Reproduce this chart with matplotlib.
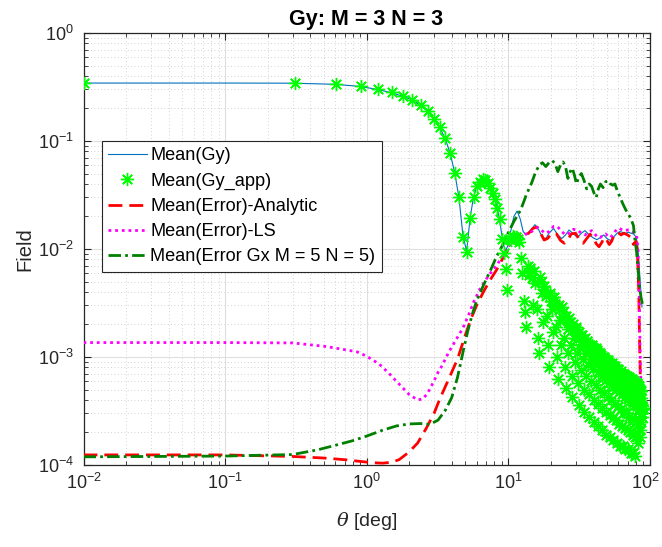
import numpy as np
import matplotlib
matplotlib.use("Agg")
import matplotlib.pyplot as plt
import matplotlib.transforms as mtransforms

plt.rcParams['font.family'] = ['Liberation Sans', 'DejaVu Sans']
plt.rcParams['mathtext.fontset'] = 'custom'
plt.rcParams['mathtext.rm'] = 'Liberation Sans'
plt.rcParams['mathtext.it'] = 'DejaVu Serif:italic'
plt.rcParams['mathtext.default'] = 'regular'

# ---------------- data ----------------
title = "Gy: M = 3 N = 3"
xlabel = r"$\mathit{\theta}$ [deg]"
ylabel = "Field"
labels = ["Mean(Gy)", "Mean(Gy_app)", "Mean(Error)-Analytic", "Mean(Error)-LS",
          "Mean(Error Gx M = 5 N = 5)"]

# Mean(Gy)
theta_gy = [0.01, 0.1, 0.3, 0.6, 0.9, 1.2, 1.5, 1.8, 2.1, 2.4, 2.7, 3.0, 3.3, 3.6, 3.9,
            4.2, 4.5, 4.8, 5.1, 5.4, 5.7, 6.0, 6.3, 6.6, 6.9, 7.2, 7.5, 7.8, 8.1, 8.4,
            8.7, 9.0, 9.3, 9.6, 9.9, 10.5, 11.0, 11.6, 12.2, 12.8, 13.5, 14.5, 15.5,
            16.5, 17.5, 18.5, 19.5, 21, 22.5, 24, 25.5, 27, 29, 31, 33, 35, 37.5, 40,
            42.5, 45, 47.5, 50, 53, 56, 59, 62, 65, 68, 71, 74, 77, 80, 82, 84, 85.5,
            87, 88.5]
gy = [0.344, 0.344, 0.343, 0.335, 0.32, 0.30, 0.28, 0.26, 0.24, 0.215, 0.19, 0.16, 0.133,
      0.105, 0.077, 0.051, 0.030, 0.0135, 0.0095, 0.0195, 0.030, 0.038, 0.042, 0.0445,
      0.044, 0.041, 0.037, 0.033, 0.029, 0.024, 0.019, 0.014, 0.011, 0.0096, 0.0105,
      0.015, 0.020, 0.0225, 0.019, 0.0145, 0.0135, 0.015, 0.0168, 0.0150, 0.0128,
      0.0125, 0.014, 0.0155, 0.0135, 0.0125, 0.0135, 0.0150, 0.0138, 0.0128, 0.0140,
      0.0148, 0.0135, 0.0127, 0.0122, 0.0128, 0.0135, 0.0125, 0.0120, 0.0130, 0.0140,
      0.0145, 0.0142, 0.0140, 0.0143, 0.0140, 0.0138, 0.0130, 0.0115, 0.0080, 0.0055,
      0.0040, 0.0029]

# Mean(Gy_app) sampled every 0.3 deg
theta_app = np.arange(0.01, 90.0, 0.3)
gy_app = [
    0.344, 0.344, 0.336, 0.322, 0.302, 0.282, 0.262, 0.240, 0.215, 0.188,
    0.160, 0.135, 0.106, 0.077, 0.051, 0.030, 0.0130, 0.0093, 0.0195, 0.030,
    0.038, 0.042, 0.0445, 0.044, 0.041, 0.037, 0.033, 0.029, 0.024, 0.019,
    0.0125,
    0.0092, 0.0065, 0.0042, 0.0125, 0.012, 0.0132, 0.0128, 0.013, 0.0125, 0.0115,
    0.0083, 0.0060, 0.0033, 0.0026, 0.0019, 0.0070, 0.0058, 0.0066, 0.0054, 0.0030,
    0.0062, 0.0048, 0.0028, 0.0015, 0.0011, 0.0055, 0.0050, 0.0039, 0.0021, 0.0045,
    0.0042, 0.0037, 0.0024, 0.0013, 0.00080, 0.0039, 0.0033, 0.0028, 0.0017, 0.0036,
    0.0033, 0.0029, 0.0019, 0.0010, 0.00062, 0.0030, 0.0027, 0.0022, 0.0013, 0.0029,
    0.0026, 0.0023, 0.0015, 0.00080, 0.00052, 0.0024, 0.0022, 0.0018, 0.0011, 0.0023,
    0.0021, 0.0019, 0.0013, 0.00066, 0.00043, 0.0020, 0.0018, 0.0015, 0.00090, 0.0019,
    0.0018, 0.0016, 0.0011, 0.00058, 0.00036, 0.0017, 0.0015, 0.0012, 0.00075, 0.0016,
    0.0016, 0.0014, 0.00095, 0.00050, 0.00031, 0.0015, 0.0013, 0.0011, 0.00066, 0.0014,
    0.0014, 0.0012, 0.00085, 0.00045, 0.00028, 0.0013, 0.0012, 0.00095, 0.00060, 0.0013,
    0.00125, 0.0011, 0.00078, 0.00040, 0.00025, 0.0012, 0.0011, 0.00088, 0.00055, 0.0012,
    0.00115, 0.0010, 0.00072, 0.00037, 0.00023, 0.0011, 0.0010, 0.00080, 0.00050, 0.0011,
    0.00105, 0.00095, 0.00066, 0.00034, 0.00021, 0.0010, 0.00092, 0.00074, 0.00046, 0.0010,
    0.00096, 0.00088, 0.00061, 0.00031, 0.00019, 0.00093, 0.00086, 0.00068, 0.00043, 0.00094,
    0.00090, 0.00082, 0.00057, 0.00029, 0.00018, 0.00088, 0.00080, 0.00064, 0.00040, 0.00088,
    0.00084, 0.00077, 0.00053, 0.00027, 0.00017, 0.00082, 0.00075, 0.00060, 0.00037, 0.00082,
    0.00079, 0.00072, 0.00050, 0.00026, 0.00016, 0.00077, 0.00071, 0.00056, 0.00035, 0.00078,
    0.00075, 0.00068, 0.00047, 0.00024, 0.00015, 0.00073, 0.00067, 0.00053, 0.00033, 0.00074,
    0.00071, 0.00065, 0.00045, 0.00023, 0.00015, 0.00070, 0.00064, 0.00050, 0.00031, 0.00070,
    0.00068, 0.00062, 0.00043, 0.00022, 0.00014, 0.00067, 0.00061, 0.00048, 0.00030, 0.00067,
    0.00065, 0.00059, 0.00041, 0.00021, 0.00014, 0.00064, 0.00058, 0.00046, 0.00028, 0.00065,
    0.00063, 0.00057, 0.00039, 0.00020, 0.00013, 0.00062, 0.00056, 0.00044, 0.00027, 0.00062,
    0.00061, 0.00055, 0.00038, 0.00019, 0.00013, 0.00060, 0.00054, 0.00042, 0.00026, 0.00060,
    0.00059, 0.00053, 0.00036, 0.00018, 0.00012, 0.00058, 0.00052, 0.00041, 0.00025, 0.00058,
    0.00056, 0.00050, 0.00035, 0.00020, 0.00016, 0.00055, 0.00049, 0.00039, 0.00024, 0.00054,
    0.00052, 0.00046, 0.00033, 0.00021, 0.00018, 0.00050, 0.00045, 0.00036, 0.00025, 0.00048,
    0.00042, 0.00038, 0.00033, 0.00030, 0.00028, 0.00035, 0.00033, 0.00034, 0.00033,
]

# Mean(Error)-Analytic
theta_an = [0.01, 0.1, 0.3, 0.5, 0.7, 0.9, 1.1, 1.3, 1.5, 1.7, 2.0, 2.3, 2.65, 3.0, 3.3,
            3.8, 4.4, 5.0, 5.5, 6.0, 6.7, 7.5, 8.3, 9.0, 9.7, 10.5, 11.4, 12.2, 13, 14,
            15, 16, 17, 18, 19, 20.5, 22, 23.5, 25, 26.5, 28, 30, 32, 34, 36, 38, 40, 42,
            44, 46, 48, 50, 52, 54, 56, 58, 60, 63, 66, 70, 74, 77, 80, 82, 84, 85, 86,
            87.5, 89]
err_an = [1.24e-4, 1.24e-4, 1.2e-4, 1.16e-4, 1.12e-4, 1.08e-4, 1.05e-4, 1.04e-4, 1.06e-4,
          1.12e-4, 1.32e-4, 1.6e-4, 2.2e-4, 3.0e-4, 4.1e-4, 6.2e-4, 9.6e-4, 1.6e-3, 2.3e-3,
          3.0e-3, 4.0e-3, 5.2e-3, 6.4e-3, 7.8e-3, 9.2e-3, 0.011, 0.0129, 0.0138, 0.0133,
          0.0140, 0.0155, 0.016, 0.0140, 0.0121, 0.0125, 0.0140, 0.0138, 0.0120, 0.0113,
          0.0122, 0.0138, 0.0140, 0.0122, 0.0113, 0.0125, 0.0137, 0.0128, 0.0112, 0.0105,
          0.0115, 0.0128, 0.0120, 0.0110, 0.0118, 0.0133, 0.0140, 0.0142, 0.0135, 0.0140,
          0.0135, 0.0128, 0.0110, 0.0118, 0.010, 0.004, 0.0015, 0.0007, 0.00045, 0.00033]

# Mean(Error)-LS
theta_ls = [0.01, 0.1, 0.3, 0.52, 0.85, 1.0, 1.23, 1.45, 1.62, 1.8, 2.0, 2.3, 2.5, 2.7,
            3.0, 3.2, 3.4, 3.8, 4.3, 4.8, 5.3, 5.7, 6.3, 6.9, 7.6, 8.4, 9.1, 9.9, 10.7,
            11.5, 12.3, 13.2, 14.2, 15.2, 16.2, 17.2, 18.2, 19.5, 21, 22.5, 24, 25.5, 27,
            29, 31, 33, 35, 37, 39, 41, 43, 45, 47, 49, 51, 53, 55, 57, 59, 61, 63, 66,
            70, 74, 78, 81, 83, 84.5, 85.5, 86.5, 88, 89.5]
err_ls = [1.36e-3, 1.36e-3, 1.35e-3, 1.25e-3, 1.12e-3, 1.02e-3, 8.6e-4, 7.0e-4, 6.0e-4,
          5.2e-4, 4.5e-4, 4.0e-4, 4.1e-4, 4.6e-4, 6.0e-4, 7.2e-4, 8.2e-4, 1.1e-3, 1.45e-3,
          1.85e-3, 2.5e-3, 3.2e-3, 4.2e-3, 5.1e-3, 6.1e-3, 7.2e-3, 8.5e-3, 0.0103, 0.0115,
          0.0123, 0.0130, 0.0137, 0.0140, 0.0150, 0.0158, 0.0150, 0.0140, 0.0145, 0.0162,
          0.0160, 0.0145, 0.0135, 0.0140, 0.0152, 0.0150, 0.0140, 0.0135, 0.0142, 0.0148,
          0.0138, 0.0128, 0.0128, 0.0135, 0.0138, 0.0130, 0.0128, 0.0135, 0.0145, 0.0152,
          0.0156, 0.0152, 0.0148, 0.0150, 0.0148, 0.0142, 0.0135, 0.010, 0.004, 0.0015,
          0.0007, 0.00042, 0.00035]

# Mean(Error Gx M = 5 N = 5)
theta_gx = [0.01, 0.1, 0.3, 0.45, 0.6, 0.8, 1.0, 1.3, 1.63, 2.0, 2.4, 2.8, 3.2, 3.6, 4.0,
            4.4, 4.8, 5.2, 5.6, 6.0, 6.7, 7.5, 8.3, 9.2, 10, 11, 12.3, 13.5, 14.7, 15.7,
            16.7, 17.5, 18.5, 19.5, 20.5, 21.5, 22.5, 23.5, 24.5, 25.5, 26.5, 27.5, 28.5,
            29.5, 30.5, 31.5, 33, 34.5, 36, 37.5, 39, 40.5, 42, 43.5, 45, 47, 49, 51, 53,
            55, 57, 59, 62, 65, 68, 71, 74, 77, 79, 81, 83, 85, 87, 89]
err_gx = [1.19e-4, 1.21e-4, 1.25e-4, 1.38e-4, 1.52e-4, 1.68e-4, 1.85e-4, 2.1e-4, 2.3e-4,
          2.4e-4, 2.42e-4, 2.38e-4, 2.6e-4, 3.2e-4, 4.2e-4, 6.5e-4, 1.1e-3, 1.75e-3, 2.5e-3,
          3.3e-3, 4.6e-3, 6.3e-3, 8.5e-3, 0.011, 0.014, 0.018, 0.023, 0.032, 0.041, 0.052,
          0.060, 0.063, 0.058, 0.063, 0.066, 0.062, 0.052, 0.060, 0.064, 0.058, 0.045, 0.052,
          0.056, 0.048, 0.040, 0.046, 0.050, 0.043, 0.036, 0.040, 0.038, 0.033, 0.030, 0.036,
          0.040, 0.037, 0.042, 0.043, 0.040, 0.039, 0.040, 0.035, 0.030, 0.026, 0.023, 0.021,
          0.019, 0.0165, 0.012, 0.0095, 0.0065, 0.0045, 0.0036, 0.0031]

# ---------------- plot ----------------
fig = plt.figure(figsize=(6.62, 5.47), dpi=100)
ax = fig.add_axes([83.5 / 662, 82 / 547, 566 / 662, 432 / 547])

c_blue = '#0072BD'
c_green = '#00FF00'
c_red = '#FF0000'
c_mag = '#FF00FF'
c_dgreen = '#008000'
star = (8, 2, 0)

l1, = ax.plot(theta_gy, gy, '-', color=c_blue, lw=0.8, zorder=3)
l2, = ax.plot(theta_app, gy_app, linestyle='none', marker=star, color=c_green,
              markersize=9.5, markeredgewidth=1.0, zorder=4)
l3, = ax.plot(theta_an, err_an, color=c_red, lw=2.0, dashes=[5, 2.5], zorder=3)
l4, = ax.plot(theta_ls, err_ls, color=c_mag, lw=2.0, dashes=[1, 1.4],
              dash_capstyle='butt', zorder=3)
l5, = ax.plot(theta_gx, err_gx, color=c_dgreen, lw=2.0, dashes=[4.5, 1.5, 1, 1.5],
              zorder=3)

ax.set_xscale('log')
ax.set_yscale('log')
ax.set_xlim(1e-2, 1e2)
ax.set_ylim(1e-4, 1e0)

ax.grid(True, which='major', color='#DFDFDF', lw=0.8, ls='-')
ax.grid(True, which='minor', color='#C4C4C4', lw=0.6, ls=(0, (1, 3)))
ax.set_axisbelow(True)

ax.tick_params(which='both', direction='in', top=True, right=True, colors='#262626',
               labelsize=13)
ax.tick_params(which='major', length=5, width=0.8)
ax.tick_params(which='minor', length=3, width=0.6)
ax.tick_params(axis='x', pad=6)
ax.tick_params(axis='y', pad=7)
for s in ax.spines.values():
    s.set_color('#262626')
    s.set_linewidth(0.9)

ax.set_title(title, fontsize=15.5, fontweight='bold', pad=6)
ax.set_xlabel(xlabel, fontsize=14, color='#262626', labelpad=12)
ax.set_ylabel(ylabel, fontsize=14.5, color='#262626', labelpad=2)

leg = ax.legend([l1, l2, l3, l4, l5], labels, loc='upper left',
                bbox_to_anchor=(102 / 662, 1 - 141 / 547), bbox_transform=fig.transFigure,
                fontsize=13.1, frameon=True, fancybox=False, framealpha=1,
                edgecolor='#262626', handlelength=2.1, handletextpad=0.2,
                labelspacing=0.45, borderpad=0.35, borderaxespad=0, numpoints=1)
leg.get_frame().set_linewidth(0.8)

# keep the rightmost x tick label inside the canvas
fig.canvas.draw()
xt = ax.get_xticklabels()
vis = [t for t in xt if t.get_text() and 0.99e2 <= t.get_position()[0] <= 1.01e2]
for t in vis:
    t.set_transform(t.get_transform() + mtransforms.ScaledTranslation(-4 / 100, 0, fig.dpi_scale_trans))

fig.savefig('out.png', dpi=100)
